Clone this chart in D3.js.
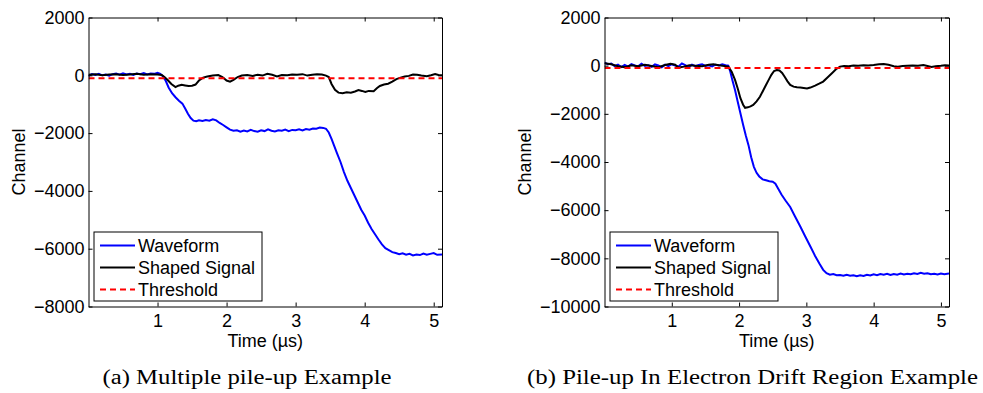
<!DOCTYPE html>
<html lang="en">
<head>
    <meta charset="UTF-8">
    <title>Pile-up examples</title>
    <script src="https://d3js.org/d3.v7.min.js"></script>
    <style>
        body { margin: 0; background: white; }
        .tick text, .lbl { font-family: "Liberation Sans", Arial, sans-serif; font-size: 18px; fill: black; }
        .caption { font-family: "Liberation Serif", "Times New Roman", serif; font-size: 20px; fill: black; }
        .domain, .tick line { stroke: black; stroke-width: 1px; }
    </style>
</head>
<body>
<svg id="chart" width="983" height="393"></svg>
<script>
// time axis (µs)
const timeDomain = [0, 5.12];
const timeTicks = [1, 2, 3, 4, 5];

// panel (a) — multiple pile-up
const channelTicksA = [-8000, -6000, -4000, -2000, 0, 2000];
const thresholdA = -100;
const waveformA = [[0,-20],[0.05,40],[0.1,10],[0.15,50],[0.2,0],[0.25,30],[0.3,-10],[0.35,40],[0.4,60],[0.45,20],[0.5,70],[0.55,30],[0.6,50],[0.65,10],[0.7,60],[0.75,40],[0.8,80],[0.85,30],[0.9,60],[0.95,50],[1.0,90],[1.04,50],[1.08,-40],[1.12,-200],[1.16,-420],[1.21,-620],[1.26,-760],[1.31,-880],[1.36,-980],[1.40,-1150],[1.44,-1330],[1.48,-1480],[1.52,-1570],[1.56,-1590],[1.6,-1560],[1.65,-1580],[1.7,-1550],[1.75,-1570],[1.8,-1520],[1.85,-1560],[1.9,-1650],[1.95,-1720],[2.0,-1800],[2.05,-1880],[2.1,-1920],[2.15,-1900],[2.2,-1950],[2.25,-1910],[2.3,-1940],[2.35,-1890],[2.4,-1930],[2.45,-1950],[2.5,-1900],[2.55,-1930],[2.6,-1870],[2.65,-1920],[2.7,-1940],[2.75,-1900],[2.8,-1920],[2.85,-1880],[2.9,-1930],[2.95,-1890],[3.0,-1900],[3.05,-1870],[3.1,-1910],[3.15,-1860],[3.2,-1880],[3.25,-1840],[3.3,-1850],[3.35,-1810],[3.4,-1820],[3.44,-1850],[3.48,-1980],[3.52,-2200],[3.56,-2450],[3.6,-2700],[3.65,-3000],[3.7,-3350],[3.75,-3650],[3.8,-3900],[3.85,-4150],[3.9,-4400],[3.95,-4650],[4.0,-4850],[4.05,-5100],[4.1,-5320],[4.15,-5500],[4.2,-5680],[4.25,-5850],[4.3,-5980],[4.35,-6050],[4.4,-6120],[4.45,-6150],[4.5,-6190],[4.55,-6160],[4.6,-6210],[4.65,-6180],[4.7,-6230],[4.75,-6200],[4.8,-6220],[4.85,-6170],[4.9,-6210],[4.95,-6180],[5.0,-6150],[5.05,-6210],[5.12,-6200]];
const shapedA = [[0,20],[0.1,40],[0.2,0],[0.3,30],[0.4,40],[0.5,10],[0.6,30],[0.7,50],[0.8,20],[0.9,40],[1.0,30],[1.06,10],[1.1,-60],[1.15,-170],[1.2,-300],[1.26,-410],[1.3,-360],[1.35,-330],[1.4,-350],[1.45,-370],[1.5,-360],[1.55,-320],[1.6,-180],[1.66,-80],[1.72,-40],[1.8,-10],[1.88,10],[1.94,-60],[2.0,-180],[2.05,-220],[2.1,-160],[2.16,-60],[2.22,-10],[2.3,10],[2.38,-20],[2.45,20],[2.52,-10],[2.59,50],[2.66,20],[2.73,-40],[2.8,10],[2.88,0],[2.95,30],[3.02,20],[3.1,40],[3.17,-10],[3.24,20],[3.31,40],[3.38,30],[3.44,-10],[3.48,-60],[3.52,-300],[3.57,-500],[3.62,-600],[3.68,-620],[3.74,-590],[3.8,-600],[3.86,-560],[3.91,-510],[3.96,-540],[4.01,-580],[4.06,-540],[4.13,-550],[4.18,-440],[4.22,-370],[4.28,-320],[4.34,-290],[4.4,-220],[4.46,-130],[4.52,-80],[4.58,-40],[4.64,-20],[4.7,30],[4.76,20],[4.82,-10],[4.9,-30],[4.96,0],[5.02,40],[5.07,10],[5.12,0]];

// panel (b) — pile-up in electron drift region
const channelTicksB = [-10000, -8000, -6000, -4000, -2000, 0, 2000];
const thresholdB = -100;
const waveformB = [[0,120],[0.05,60],[0.1,90],[0.15,-20],[0.2,40],[0.25,-60],[0.3,30],[0.35,-40],[0.4,60],[0.45,10],[0.5,-30],[0.55,80],[0.6,-10],[0.65,20],[0.7,-50],[0.75,50],[0.8,10],[0.85,-70],[0.9,40],[0.95,-20],[1.0,60],[1.05,0],[1.1,-30],[1.15,90],[1.2,20],[1.25,-60],[1.3,40],[1.35,-20],[1.4,30],[1.45,60],[1.5,-10],[1.55,20],[1.6,-30],[1.65,40],[1.7,10],[1.75,60],[1.8,20],[1.84,0],[1.87,-250],[1.9,-600],[1.94,-1010],[1.98,-1500],[2.02,-1975],[2.06,-2450],[2.1,-2900],[2.14,-3300],[2.18,-3800],[2.22,-4200],[2.26,-4450],[2.3,-4600],[2.35,-4720],[2.4,-4760],[2.45,-4800],[2.5,-4820],[2.54,-4900],[2.58,-5100],[2.63,-5350],[2.69,-5600],[2.76,-5870],[2.83,-6250],[2.91,-6680],[2.98,-7070],[3.06,-7510],[3.13,-7900],[3.2,-8250],[3.25,-8480],[3.3,-8620],[3.35,-8680],[3.4,-8650],[3.45,-8700],[3.5,-8690],[3.55,-8720],[3.6,-8680],[3.65,-8720],[3.7,-8700],[3.75,-8740],[3.8,-8700],[3.85,-8730],[3.9,-8680],[3.95,-8710],[4.0,-8660],[4.05,-8700],[4.1,-8650],[4.15,-8680],[4.2,-8640],[4.25,-8690],[4.3,-8650],[4.35,-8680],[4.4,-8630],[4.45,-8670],[4.5,-8640],[4.55,-8660],[4.6,-8620],[4.65,-8650],[4.7,-8600],[4.75,-8640],[4.8,-8620],[4.85,-8660],[4.9,-8640],[4.95,-8670],[5.0,-8630],[5.05,-8660],[5.12,-8630]];
const shapedB = [[0,100],[0.1,60],[0.2,-20],[0.3,-60],[0.4,20],[0.5,-20],[0.6,40],[0.7,-10],[0.8,-60],[0.9,30],[0.98,80],[1.05,40],[1.1,-80],[1.18,-40],[1.26,20],[1.35,0],[1.45,-20],[1.55,40],[1.62,60],[1.7,20],[1.78,-10],[1.84,-40],[1.89,-250],[1.94,-590],[1.98,-950],[2.02,-1350],[2.06,-1620],[2.09,-1750],[2.13,-1730],[2.17,-1690],[2.21,-1630],[2.26,-1480],[2.31,-1290],[2.36,-1020],[2.4,-800],[2.44,-590],[2.48,-380],[2.52,-220],[2.56,-180],[2.6,-200],[2.64,-300],[2.68,-470],[2.72,-650],[2.76,-800],[2.81,-870],[2.86,-900],[2.91,-910],[2.96,-930],[3.01,-950],[3.06,-910],[3.13,-830],[3.19,-750],[3.25,-660],[3.31,-500],[3.38,-315],[3.44,-150],[3.5,-40],[3.56,-10],[3.63,-20],[3.7,10],[3.77,0],[3.85,20],[3.92,10],[4.0,30],[4.08,60],[4.15,70],[4.22,40],[4.3,-20],[4.36,-40],[4.43,-10],[4.5,0],[4.58,10],[4.66,0],[4.74,30],[4.8,-10],[4.86,-50],[4.92,-20],[5.0,0],[5.06,20],[5.12,10]];

const legendLabels = ["Waveform", "Shaped Signal", "Threshold"];

const svg = d3.select("#chart");
const plotTop = 17.5, plotBottom = 306.5;

const panels = [
    { id: "a", left: 88.5, right: 442, yTicks: channelTicksA, wave: waveformA, shaped: shapedA, thr: thresholdA,
      caption: "(a)  Multiple pile-up Example", capX: 102.5, capW: 289, ylabX: 25, legend: [94, 232, 168, 69] },
    { id: "b", left: 604.5, right: 949, yTicks: channelTicksB, wave: waveformB, shaped: shapedB, thr: thresholdB,
      caption: "(b)  Pile-up In Electron Drift Region Example", capX: 527, capW: 451, ylabX: 531, legend: [610, 232, 168, 69] }
];

const fmt = d3.format("d");

panels.forEach(p => {
    const x = d3.scaleLinear().domain(timeDomain).range([p.left, p.right]);
    const y = d3.scaleLinear().domain(d3.extent(p.yTicks)).range([plotBottom, plotTop]);
    const g = svg.append("g");

    g.append("clipPath").attr("id", "clip-" + p.id)
        .append("rect").attr("x", p.left).attr("y", plotTop)
        .attr("width", p.right - p.left).attr("height", plotBottom - plotTop);

    const line = d3.line().x(d => x(d[0])).y(d => y(d[1]));
    const plot = g.append("g").attr("clip-path", `url(#clip-${p.id})`);

    plot.append("path").datum(p.wave).attr("d", line)
        .attr("fill", "none").attr("stroke", "#0000ff").attr("stroke-width", 2);
    plot.append("path").datum(p.shaped).attr("d", line)
        .attr("fill", "none").attr("stroke", "black").attr("stroke-width", 2);
    plot.append("path").datum([[timeDomain[0], p.thr], [timeDomain[1], p.thr]]).attr("d", line)
        .attr("fill", "none").attr("stroke", "#ff0000").attr("stroke-width", 2)
        .attr("stroke-dasharray", "6,4");

    // axes with inside ticks on all four sides
    g.append("g").attr("transform", `translate(0,${plotBottom})`)
        .call(d3.axisBottom(x).tickValues(timeTicks).tickSize(-4).tickSizeOuter(0).tickPadding(8).tickFormat(fmt));
    g.append("g").attr("transform", `translate(0,${plotTop})`)
        .call(d3.axisTop(x).tickValues(timeTicks).tickSize(-4).tickSizeOuter(0).tickFormat(""));
    g.append("g").attr("transform", `translate(${p.left},0)`)
        .call(d3.axisLeft(y).tickValues(p.yTicks).tickSize(-4).tickSizeOuter(0).tickPadding(4).tickFormat(fmt));
    g.append("g").attr("transform", `translate(${p.right},0)`)
        .call(d3.axisRight(y).tickValues(p.yTicks).tickSize(-4).tickSizeOuter(0).tickFormat(""));
    g.selectAll(".tick text").attr("font-family", null).attr("font-size", null);

    g.append("text").attr("class", "lbl")
        .attr("x", (p.left + p.right) / 2).attr("y", 346.5)
        .attr("text-anchor", "middle").text("Time (µs)");
    g.append("text").attr("class", "lbl")
        .attr("transform", `translate(${p.ylabX},${(plotTop + plotBottom) / 2}) rotate(-90)`)
        .attr("text-anchor", "middle").text("Channel");

    // legend
    const [lx, ly, lw, lh] = p.legend;
    const lg = g.append("g");
    lg.append("rect").attr("x", lx).attr("y", ly).attr("width", lw).attr("height", lh)
        .attr("fill", "white").attr("stroke", "black").attr("stroke-width", 1);
    const styles = [
        { c: "#0000ff", w: 2, dash: null },
        { c: "black", w: 2, dash: null },
        { c: "#ff0000", w: 2, dash: "6,4" }
    ];
    legendLabels.forEach((name, i) => {
        const cy = ly + 13.5 + i * 22;
        lg.append("line").attr("x1", lx + 6).attr("x2", lx + 41).attr("y1", cy).attr("y2", cy)
            .attr("stroke", styles[i].c).attr("stroke-width", styles[i].w)
            .attr("stroke-dasharray", styles[i].dash);
        lg.append("text").attr("class", "lbl").attr("x", lx + 44).attr("y", cy)
            .attr("dominant-baseline", "central").text(name);
    });

    svg.append("text").attr("class", "caption")
        .attr("x", p.capX).attr("y", 384)
        .attr("textLength", p.capW).attr("lengthAdjust", "spacingAndGlyphs")
        .text(p.caption);
});
</script>
</body>
</html>
